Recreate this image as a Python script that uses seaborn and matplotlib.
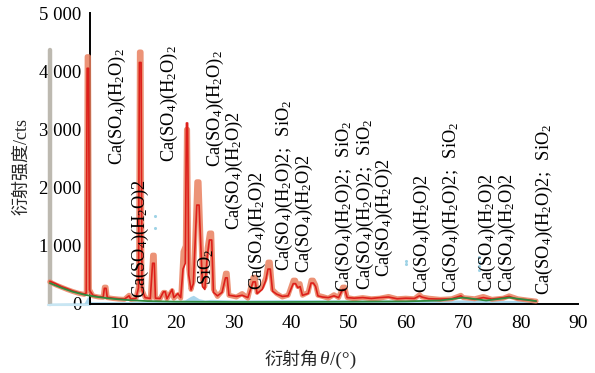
import matplotlib
matplotlib.use("Agg")
import matplotlib.pyplot as plt
import seaborn as sns
import pandas as pd

# Diffraction angle (deg) of the pattern samples
two_theta = [-2.0, -1.0, 0.0, 1.0, 2.0, 3.0, 4.0, 4.35, 4.5, 4.75, 4.9, 5.5, 6.5, 7.3, 7.5, 7.8,
             8.0, 9.0, 10.0, 11.0, 11.8, 12.1, 13.0, 13.45, 13.6, 13.9, 14.05, 14.6, 15.5, 15.9,
             16.2, 16.4, 17.2, 17.8, 18.1, 18.4, 19.3, 19.6, 20.3, 20.8, 21.2, 21.6, 21.8, 22.0,
             22.2, 22.6, 23.0, 23.6, 24.0, 24.3, 24.6, 25.0, 25.4, 25.8, 26.2, 26.5, 27.2, 28.0,
             28.6, 28.9, 29.2, 30.5, 31.5, 32.5, 33.4, 33.8, 34.1, 35.0, 35.6, 36.0, 36.4, 36.8,
             37.5, 38.5, 39.5, 40.4, 40.8, 41.2, 41.6, 42.0, 43.0, 43.5, 43.9, 44.3, 44.7, 45.5,
             46.5, 47.5, 48.3, 49.0, 49.4, 49.8, 51.0, 52.5, 54.0, 55.5, 57.0, 58.5, 60.0, 61.5,
             62.4, 62.8, 64.0, 66.0, 68.0, 69.6, 70.0, 72.0, 73.5, 75.0, 77.0, 78.0, 79.5, 81.0,
             82.7]

# Measured intensity (cts)
measured = [380, 330, 290, 250, 215, 185, 165, 200, 4250, 4250, 250, 140, 120, 115, 290, 290,
            110, 95, 85, 80, 150, 80, 90, 300, 4330, 4330, 250, 110, 90, 840,
            840, 100, 90, 200, 200, 90, 230, 100, 160, 100, 900, 1000, 3000, 3000,
            600, 250, 400, 2100, 2100, 1200, 400, 300, 960, 1220, 1220, 250, 130, 220,
            530, 530, 150, 120, 180, 100, 460, 460, 200, 300, 450, 720, 720, 250,
            180, 120, 150, 410, 410, 300, 350, 150, 200, 410, 410, 330, 150, 130,
            100, 160, 110, 290, 290, 110, 90, 110, 90, 100, 130, 90, 100, 90,
            160, 120, 100, 80, 90, 150, 110, 90, 130, 80, 100, 140, 90, 70,
            50]

# Calculated intensity (cts)
calculated = [390, 350, 300, 265, 225, 195, 170, 190, 4050, 4050, 240, 150, 125, 120, 270, 270,
              115, 100, 90, 85, 140, 85, 95, 280, 4150, 4150, 240, 110, 95, 700,
              700, 100, 95, 210, 210, 90, 250, 110, 180, 110, 600, 700, 3110, 3110,
              500, 240, 350, 1700, 1700, 1000, 300, 250, 800, 1100, 1100, 200, 140, 200,
              450, 450, 150, 130, 150, 110, 380, 380, 180, 250, 400, 600, 600, 220,
              170, 130, 140, 350, 350, 280, 300, 150, 180, 360, 360, 300, 140, 120,
              110, 140, 110, 250, 250, 110, 100, 110, 95, 110, 120, 90, 100, 95,
              140, 120, 90, 85, 90, 140, 110, 80, 110, 85, 110, 130, 80, 75,
              50]

# Background curve
bg_theta = [-2, 0, 2, 4, 6, 8, 10, 12, 15, 20, 30, 40, 50, 60, 66, 70, 74, 78, 82.7]
bg_counts = [360, 280, 210, 160, 125, 100, 80, 65, 50, 40, 35, 35, 40, 45, 60, 110, 60, 110, 50]

# Quartz contribution
qz_theta = [-2, 4.0, 4.6, 5.2, 10, 16.0, 16.5, 17.0, 21.5, 22.5, 23.0, 24.0, 25.0, 26.0, 30, 40,
            50, 60, 70, 80, 82.7]
qz_counts = [15, 20, 130, 40, 40, 45, 90, 45, 70, 130, 150, 90, 70, 80, 70, 75,
             70, 65, 70, 60, 30]

# Reference reflection markers
ref_theta = [16.4, 16.4, 60.0, 60.0, 72.8, 72.8, 72.8, 72.8]
ref_counts = [1520, 1300, 740, 680, 800, 730, 660, 590]

# Sample holder edge
holder_theta = [-2.05, -2.05]
holder_counts = [0, 4370]

# Phase annotations: angle, height of label base, text
label_theta = [9.7, 13.7, 18.9, 25.3, 26.9, 30.1, 34.2, 38.9, 42.4, 49.3, 52.9, 56.3,
               62.9, 68.0, 74.2, 77.7, 84.1]
label_counts = [2390, 100, 2440, 330, 2350, 1270, 240, 560, 530, 200, 240, 460,
                190, 190, 200, 200, 155]
label_text = [
    r"$\mathrm{Ca(SO_4)(H_2O)_2}$",
    r"$\mathrm{Ca(SO_4)(H_2O)2}$",
    r"$\mathrm{Ca(SO_4)(H_2O)_2}$",
    r"$\mathrm{SiO_2}$",
    r"$\mathrm{Ca(SO_4)(H_2O)_2}$",
    r"$\mathrm{Ca(SO_4)(H_2O)2}$",
    r"$\mathrm{Ca(SO_4)(H_2O)2}$",
    r"$\mathrm{Ca(SO_4)(H_2O)2;\ \ SiO_2}$",
    r"$\mathrm{Ca(SO_4)(H_2O)2}$",
    r"$\mathrm{Ca(SO_4)(H_2O)2;\ \ SiO_2}$",
    r"$\mathrm{Ca(SO_4)(H_2O)2;\ \ SiO_2}$",
    r"$\mathrm{Ca(SO_4)(H_2O)2}$",
    r"$\mathrm{Ca(SO_4)(H_2O)2}$",
    r"$\mathrm{Ca(SO_4)(H_2O)2;\ \ SiO_2}$",
    r"$\mathrm{Ca(SO_4)(H_2O)2}$",
    r"$\mathrm{Ca(SO_4)(H_2O)2}$",
    r"$\mathrm{Ca(SO_4)(H_2O)2;\ \ SiO_2}$",
]

x_ticks = [10, 20, 30, 40, 50, 60, 70, 80, 90]
y_ticks = [0, 1000, 2000, 3000, 4000, 5000]
y_tick_labels = ["0", "1 000", "2 000", "3 000", "4 000", "5 000"]

sns.set_theme(style="white")
plt.rcParams["font.family"] = ["Liberation Serif", "Noto Sans CJK SC"]
plt.rcParams["mathtext.fontset"] = "custom"
plt.rcParams["mathtext.rm"] = "Liberation Serif"
plt.rcParams["mathtext.it"] = "Liberation Serif:italic"

fig = plt.figure(figsize=(5.95, 3.73), dpi=100)
ax = fig.add_axes([90 / 595, 69 / 373, 488 / 595, 291 / 373])

pattern = pd.DataFrame({"theta": two_theta, "measured": measured, "calculated": calculated})
bg = pd.DataFrame({"theta": bg_theta, "counts": bg_counts})

# sample holder edge
ax.plot(holder_theta, holder_counts, color="#BDB9B0", lw=3.2, clip_on=False, zorder=1)

# quartz contribution as a filled band
ax.fill_between(qz_theta, 0, qz_counts, color="#A9D6EC", lw=0, clip_on=False, zorder=2)
ax.plot([-2.3, 5], [-25, -25], color="#C8E6F3", lw=1.5, clip_on=False, zorder=2)

sns.lineplot(data=pattern, x="theta", y="measured", ax=ax, color="#E9805F", lw=3.6,
             alpha=0.85, estimator=None, clip_on=False, zorder=3)
sns.lineplot(data=pattern, x="theta", y="calculated", ax=ax, color="#DD1F1A", lw=1.2,
             estimator=None, clip_on=False, zorder=4)
sns.lineplot(data=bg, x="theta", y="counts", ax=ax, color="#2E8B3E", lw=1.3,
             estimator=None, clip_on=False, zorder=5)

sns.scatterplot(x=ref_theta, y=ref_counts, ax=ax, color="#9FD3E6", s=5, linewidth=0,
                zorder=5)

for t, c, s in zip(label_theta, label_counts, label_text):
    ax.text(t, c, s, rotation=90, ha="center", va="bottom", fontsize=13.2,
            color="black", zorder=6)

ax.set_xlim(5, 90)
ax.set_ylim(0, 5000)
ax.set_xticks(x_ticks)
ax.set_yticks(y_ticks)
ax.set_yticklabels(y_tick_labels)
ax.tick_params(axis="x", direction="in", length=7, width=1.2, labelsize=14, pad=8,
               colors="black")
ax.tick_params(axis="y", direction="out", length=5, width=1.2, labelsize=13.5, pad=1,
               colors="black")
ax.set_xlabel("")
ax.set_ylabel("")
for side in ["top", "right"]:
    ax.spines[side].set_visible(False)
for side in ["left", "bottom"]:
    ax.spines[side].set_color("black")
    ax.spines[side].set_linewidth(1.4)
ax.patch.set_alpha(0)

# axis titles
fig.text(318 / 595, 1 - 360 / 373, "衍射角", ha="right", va="center", fontsize=13,
         family=["Noto Sans CJK SC"])
fig.text(324 / 595, 1 - 360 / 373, "θ", ha="center", va="center", fontsize=14,
         style="italic", family=["Liberation Serif"])
fig.text(330 / 595, 1 - 360 / 373, "/(°)", ha="left", va="center", fontsize=14,
         family=["Liberation Serif"])
fig.text(22 / 595, 1 - 166 / 373, "衍射强度/cts", ha="center", va="center",
         rotation=90, fontsize=13)

fig.savefig("out.png", dpi=100)
